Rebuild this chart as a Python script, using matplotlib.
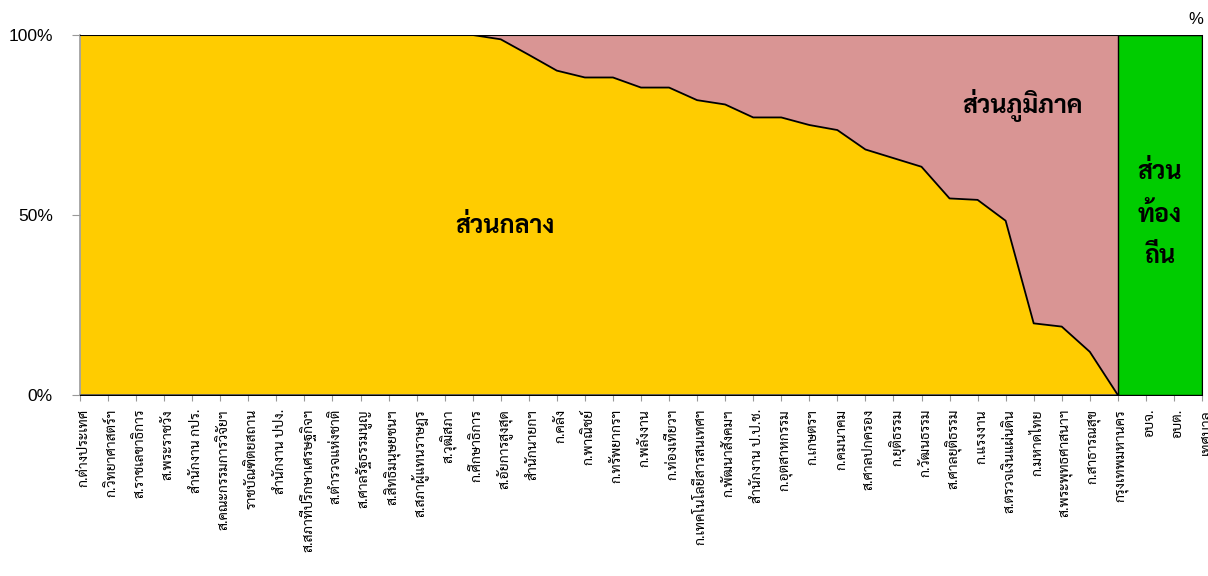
import numpy as np
import matplotlib
matplotlib.use("Agg")
import matplotlib.pyplot as plt
from matplotlib.transforms import ScaledTranslation

# หน่วยงาน (แกน x)
categories = [
    "ก.ต่างประเทศ", "ก.วิทยาศาสตร์ฯ", "ส.ราชเลขาธิการ", "ส.พระราชวัง",
    "สำนักงาน กปร.", "ส.คณะกรรมการวิจัยฯ", "ราชบัณฑิตยสถาน", "สำนักงาน ปปง.",
    "ส.สภาที่ปรึกษาเศรษฐกิจฯ", "ส.ตำรวจแห่งชาติ", "ส.ศาลรัฐธรรมนูญ", "ส.สิทธิมนุษยชนฯ",
    "ส.สภาผู้แทนราษฎร", "ส.วุฒิสภา", "ก.ศึกษาธิการ", "ส.อัยการสูงสุด",
    "สำนักนายกฯ", "ก.คลัง", "ก.พาณิชย์", "ก.ทรัพยากรฯ",
    "ก.พลังงาน", "ก.ท่องเที่ยวฯ", "ก.เทคโนโลยีสารสนเทศฯ", "ก.พัฒนาสังคมฯ",
    "สำนักงาน ป.ป.ช.", "ก.อุตสาหกรรม", "ก.เกษตรฯ", "ก.คมนาคม",
    "ส.ศาลปกครอง", "ก.ยุติธรรม", "ก.วัฒนธรรม", "ส.ศาลยุติธรรม",
    "ก.แรงงาน", "ส.ตรวจเงินแผ่นดิน", "ก.มหาดไทย", "ส.พระพุทธศาสนาฯ",
    "ก.สาธารณสุข", "กรุงเทพมหานคร", "อบจ.", "อบต.", "เทศบาล",
]

# สัดส่วนส่วนกลาง (%)
central_share = [
    100, 100, 100, 100, 100, 100, 100, 100, 100, 100,
    100, 100, 100, 100, 100, 98.8, 94.5, 90.1, 88.2, 88.2,
    85.4, 85.4, 81.9, 80.7, 77.1, 77.1, 75.0, 73.6, 68.2, 65.8,
    63.4, 54.6, 54.2, 48.4, 19.9, 19.0, 12.0, 0, 0, 0, 0,
]
# สัดส่วนส่วนท้องถิ่น (%)
local_share = [0] * 37 + [100, 100, 100, 100]

yellow = "#FFCC00"
pink = "#D99594"
green = "#00CC00"

thai = ["Sarabun", "DejaVu Sans"]

x = np.arange(len(categories))
central = np.array(central_share, dtype=float)
local = np.array(local_share, dtype=float)

fig = plt.figure(figsize=(12.08, 5.76), dpi=100)
ax = fig.add_axes([80 / 1208, 1 - 395 / 576, 1122 / 1208, 360 / 576])

# ส่วนภูมิภาค = ส่วนที่เหลือถึง 100%
ax.fill_between(x, central, 100, color=pink, linewidth=0, zorder=1)
ax.fill_between(x, 0, central, color=yellow, linewidth=0, zorder=2)
ax.plot(x, central, color="black", linewidth=1.3, zorder=3)
ax.fill_between(x, 0, local, step="post", color=green, edgecolor="black",
                linewidth=1.0, zorder=4)
ax.axhline(100, color="black", linewidth=1.5, zorder=5)

ax.set_xlim(0, len(categories) - 1)
ax.set_ylim(0, 100)
ax.set_yticks([0, 50, 100])
ax.set_yticklabels(["0%", "50%", "100%"], fontfamily="Liberation Sans", fontsize=12.5)
ax.set_xticks(x)
ax.set_xticklabels(categories, rotation=90, fontsize=10, family=thai)
ax.tick_params(axis="y", length=6, pad=13.5, color="#999999")
ax.tick_params(axis="x", length=4, pad=6, color="#999999")

# เลื่อนป้ายแกน x ไปทางขวาเล็กน้อย
shift = ScaledTranslation(4 / 100, 0, fig.dpi_scale_trans)
for lab in ax.get_xticklabels():
    lab.set_transform(lab.get_transform() + shift)

for side in ["left", "bottom"]:
    ax.spines[side].set_color("#999999")
    ax.spines[side].set_linewidth(1.2)
ax.spines["top"].set_visible(False)
ax.spines["right"].set_color("#555555")

ax.text(15.15, 46.7, "ส่วนกลาง", ha="center", va="center", fontsize=18,
        fontweight="bold", family=thai, zorder=6)
ax.text(33.6, 80.5, "ส่วนภูมิภาค", ha="center", va="center", fontsize=18,
        fontweight="bold", family=thai, zorder=6)
ax.text(38.5, 50, "ส่วน\nท้อง\nถิ่น", ha="center", va="center", fontsize=18,
        fontweight="bold", family=thai, linespacing=1.95, zorder=6)
fig.text(1196 / 1208, 1 - 20 / 576, "%", ha="center", va="center", fontsize=12,
         fontfamily="Liberation Sans")

fig.savefig("out.png", dpi=100)
